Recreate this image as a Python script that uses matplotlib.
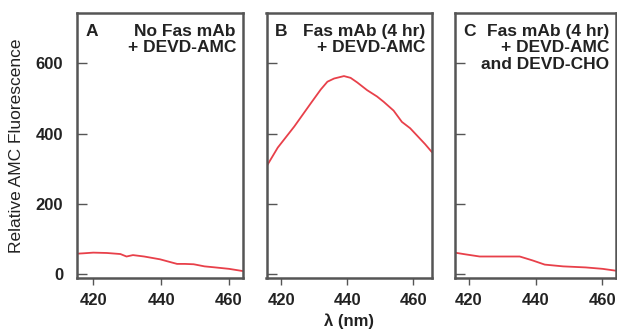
import numpy as np
import matplotlib.pyplot as plt

plt.rcParams['font.family'] = ['Liberation Sans', 'DejaVu Sans']

# wavelength (nm) and relative AMC fluorescence
wl_a = [415.2, 417, 420, 424, 428, 429.8, 431.7, 435, 439.7, 442, 444.7, 447, 449.6, 452.8, 456, 460, 463.9]
fl_a = [59, 60, 62, 61, 58, 51, 55, 51, 43, 37, 30, 30, 29, 23, 20, 16, 10]

wl_b = [415.5, 419, 424, 429, 432, 434, 436, 439, 441, 443, 446, 449, 451, 454, 456.5, 459, 461, 463.5, 465.5]
fl_b = [305, 360, 420, 486, 525, 547, 556, 563, 558, 545, 523, 505, 490, 465, 433, 415, 395, 370, 348]

wl_c = [415.7, 419, 423.2, 428, 435.2, 439, 442.7, 448.2, 455, 460, 463.8]
fl_c = [62, 57, 51, 51, 51, 40, 28, 23, 20, 16, 11]

panels = [
    ("A", "No Fas mAb\n+ DEVD-AMC", wl_a, fl_a),
    ("B", "Fas mAb (4 hr)\n+ DEVD-AMC", wl_b, fl_b),
    ("C", "Fas mAb (4 hr)\n+ DEVD-AMC\nand DEVD-CHO", wl_c, fl_c),
]

W, H = 617, 331
boxes = [(77, 242.5), (266.5, 432), (455, 615.5)]
top, bottom = 13, 278

fig = plt.figure(figsize=(W / 100, H / 100), dpi=100)
red = '#e8404a'
frame = '#555555'
ink = '#222222'

for i, ((letter, label, x, y), (l, r)) in enumerate(zip(panels, boxes)):
    ax = fig.add_axes([l / W, 1 - bottom / H, (r - l) / W, (bottom - top) / H])
    ax.plot(x, y, color=red, lw=1.3)
    ax.set_xlim(415.2, 464)
    if i == 1:
        ax.set_xlim(415.6, 465.6)
    if i == 2:
        ax.set_xlim(415.8, 463.9)
    ax.set_ylim(-10, 742)
    ax.set_xticks([420, 440, 460])
    ax.set_yticks([0, 200, 400, 600])
    ax.tick_params(axis='x', direction='out', length=5, width=1, color=frame,
                   labelsize=12, pad=6)
    ax.tick_params(axis='y', direction='in', length=7, width=1, color=frame,
                   labelsize=12, pad=10)
    for lab in ax.get_xticklabels() + ax.get_yticklabels():
        lab.set_fontweight('bold')
        lab.set_color(ink)
    if i > 0:
        ax.set_yticklabels([])
    else:
        ax.set_ylabel("Relative AMC Fluorescence", fontsize=12.5, color=ink, labelpad=8)
    if i == 1:
        ax.set_xlabel("λ (nm)", fontsize=12, fontweight='bold', color=ink, labelpad=4)
    for s in ax.spines.values():
        s.set_color(frame)
        s.set_linewidth(1.8)
    ax.text(0.05, 0.96, letter, transform=ax.transAxes, ha='left', va='top',
            fontsize=12.5, fontweight='bold', color=ink)
    ax.text(0.96, 0.96, label, transform=ax.transAxes, ha='right', va='top',
            fontsize=12.5, fontweight='bold', color=ink, linespacing=1.15)

fig.savefig("out.png", dpi=100)
